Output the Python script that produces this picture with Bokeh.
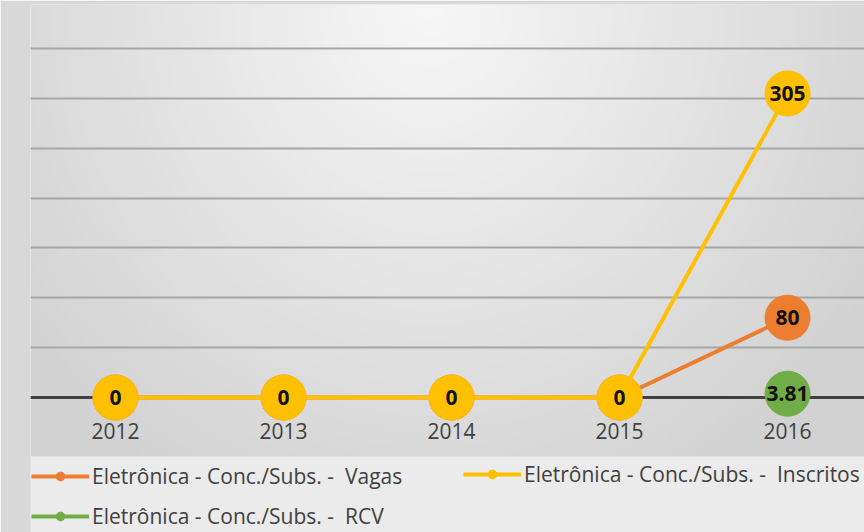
import numpy as np
from bokeh.plotting import figure
from bokeh.models import (Range1d, FixedTicker, Legend, LegendItem, Span, ColumnDataSource,
                          BoxAnnotation)
from bokeh.embed import file_html
from bokeh.resources import INLINE
from bokeh.core.properties import value

# ---- data ----
years = ["2012", "2013", "2014", "2015", "2016"]
vagas = [0, 0, 0, 0, 80]
inscritos = [0, 0, 0, 0, 305]
rcv = [None, None, None, None, 3.81]
series_names = [
    "Eletrônica - Conc./Subs. -  Vagas",
    "Eletrônica - Conc./Subs. -  Inscritos",
    "Eletrônica - Conc./Subs. -  RCV",
]
series_colors = ["#ED7D31", "#FFC000", "#70AD47"]
grid_ticks = [50, 100, 150, 200, 250, 300, 350]

FONT = "Open Sans"
TEXT_COLOR = "#404040"

xs = list(range(len(years)))
x0, x1 = -0.506, 4.458
y0, y1 = -135.4, 394.2
LEGEND_TOP = -59

FW, FH = 834, 528
p = figure(frame_width=FW, frame_height=FH, output_backend="svg", toolbar_location=None,
           x_range=Range1d(x0, x1), y_range=Range1d(y0, y1),
           min_border_left=30, min_border_right=0, min_border_top=4, min_border_bottom=0)
p.outline_line_color = None
p.border_fill_color = "#d8d8d8"
p.background_fill_color = "#e8e8e8"

# soft radial gradient backdrop (style only)
H, W = 160, 240
gx = np.linspace(0, FW, W)
gy = np.linspace(0, FH, H)  # from top
GX, GY = np.meshgrid(gx, gy)
d = np.sqrt(((GX - 400) / 480.0) ** 2 + ((GY - 0) / 520.0) ** 2)
val = np.clip(247 - 34 * d, 210, 247).astype(np.uint32)
img = ((255 << 24) | (val << 16) | (val << 8) | val).astype(np.uint32)
img = np.ascontiguousarray(img[::-1])  # row 0 at bottom
p.image_rgba(image=[img], x=x0, y=y0, dw=x1 - x0, dh=y1 - y0, level="image")

# legend band
p.add_layout(BoxAnnotation(top=LEGEND_TOP, fill_color="#ebebeb", fill_alpha=1,
                           line_color="#d6d6d6", line_width=1, level="underlay"))

# grid
p.xgrid.grid_line_color = None
p.ygrid.ticker = FixedTicker(ticks=grid_ticks)
p.ygrid.grid_line_color = "#a6a6a6"
p.ygrid.grid_line_width = 2
p.yaxis.visible = False
p.xaxis.visible = False

# zero baseline
p.add_layout(Span(location=0, dimension="width", line_color="#404040", line_width=3, level="underlay"))

# category labels under the zero line
p.text(xs, [0] * len(xs), text=years, text_font=value(FONT), text_font_size="21px",
       text_color=TEXT_COLOR, text_align="center", text_baseline="top", y_offset=25)

items = []
for name, vals, col in zip(series_names, [vagas, inscritos, rcv], series_colors):
    yv = [np.nan if v is None else v for v in vals]
    lr = p.line(xs, yv, line_color=col, line_width=4)
    pts = [(x, v) for x, v in zip(xs, vals) if v is not None]
    src = ColumnDataSource(dict(x=[a for a, _ in pts], y=[b for _, b in pts],
                                t=[f"{b:g}" for _, b in pts]))
    sr = p.scatter("x", "y", source=src, size=45, fill_color=col, line_color=col)
    p.text("x", "y", text="t", source=src, text_font=value(FONT), text_font_style="bold",
           text_font_size="21px", text_color="#111111", text_align="center",
           text_baseline="middle")
    items.append(LegendItem(label=name, renderers=[lr, sr]))

common = dict(glyph_width=58, glyph_height=22, label_height=22, label_standoff=3,
              label_text_font=FONT, label_text_font_size="21px", label_text_color=TEXT_COLOR,
              padding=4, margin=0, background_fill_alpha=0, border_line_color=None)
legend_a = Legend(items=[items[0], items[2]], orientation="vertical", location=(1, 2),
                  spacing=12, **common)
legend_b = Legend(items=[items[1]], orientation="vertical", location=(433, 44), spacing=12,
                  **common)
p.add_layout(legend_a)
p.add_layout(legend_b)

open("out.html", "w").write(file_html(p, INLINE))
